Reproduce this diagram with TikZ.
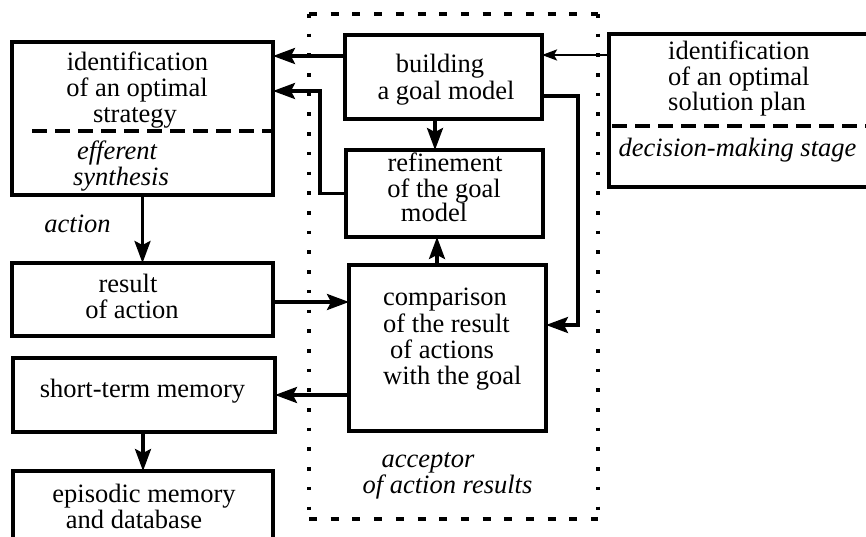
\documentclass[tikz,border=0pt]{standalone}
\usepackage{fontspec}
\setmainfont{Liberation Serif}
\newfontfamily\tmsfont{Liberation Serif}
\usetikzlibrary{arrows.meta,calc}
\begin{document}
\begin{tikzpicture}[x=1pt,y=-1pt,
  box/.style={draw=black, line width=3.2pt, inner sep=0pt, outer sep=0pt, rectangle},
  arr/.style={draw=black, line width=3.2pt, -{Stealth[length=22pt,width=16pt,inset=4pt]}},
  arrthin/.style={draw=black, line width=2.2pt, -{Stealth[length=15pt,width=11pt,inset=3pt]}},
  txt/.style={inner sep=0pt, anchor=base, text=black, font=\tmsfont\fontsize{26.5}{27}\selectfont},
  ltxt/.style={txt, anchor=base west},
  itxt/.style={txt, font=\tmsfont\fontsize{26.5}{27}\selectfont\itshape},
  sepline/.style={draw=black, line width=3.2pt, dash pattern=on 15pt off 8pt},
  dotv/.style={draw=black, line width=3.6pt, dash pattern=on 3.6pt off 16.1pt},
  dashh/.style={draw=black, line width=3.4pt, dash pattern=on 8pt off 13.7pt}]
\useasboundingbox (0,0) rectangle (866,537);
\clip (0,0) rectangle (866,537);

% acceptor frame
\draw[dotv] (309,14) -- (309,519);
\draw[dotv] (598,14) -- (598,519);
\draw[dashh] (309,14) -- (598,14);
\draw[dashh] (309,519) -- (598,519);

% boxes
\node[box, minimum width=261pt, minimum height=153pt] (b1) at (142.5,118.5) {};
\node[box, minimum width=261pt, minimum height=73pt] (res) at (142.5,299.5) {};
\node[box, minimum width=262pt, minimum height=74pt] (stm) at (144,395) {};
\node[box, minimum width=260pt, minimum height=129pt] (epi) at (143,535.5) {};
\node[box, minimum width=197pt, minimum height=84pt] (bld) at (443.5,77) {};
\node[box, minimum width=197pt, minimum height=87pt] (ref) at (444.5,193.5) {};
\node[box, minimum width=197pt, minimum height=166pt] (cmp) at (447.5,348) {};
\node[box, minimum width=291pt, minimum height=153pt] (plan) at (754.5,110.5) {};

% dashed separators
\draw[sepline] (32,131) -- (275,131);
\draw[sepline] (612,126) -- (866,126);

% texts
\node[txt] (t1) at (137.5,70.5) {identification};
\node[txt] (t2) at (137,96.5) {of an optimal};
\node[txt] (t3) at (135,122.5) {strategy};
\node[itxt] (t4) at (117,160) {efferent};
\node[itxt] (t5) at (121,186) {synthesis};
\node[itxt] (t6) at (77.5,233) {action};
\node[txt] (t7) at (128,292) {result};
\node[txt] (t8) at (132,318) {of action};
\node[txt] (t9) at (142.5,397) {short-term memory};
\node[txt] (t10) at (144,502) {episodic memory};
\node[txt] (t11) at (134,528) {and database};
\node[txt] (t12) at (440,73) {building};
\node[txt] (t13) at (446,100) {a goal model};
\node[txt] (t14) at (445,172) {refinement};
\node[txt] (t15) at (444,197) {of the goal};
\node[txt] (t16) at (434,222) {model};
\node[ltxt] (t17) at (383,305) {comparison};
\node[ltxt] (t18) at (383,332) {of the result};
\node[ltxt] (t19) at (390,358) {of actions};
\node[ltxt] (t20) at (383,384) {with the goal};
\node[itxt] (t21) at (428,467) {acceptor};
\node[itxt] (t22) at (447.5,493) {of action results};
\node[ltxt] (t23) at (668,60) {identification};
\node[ltxt] (t24) at (668,86) {of an optimal};
\node[ltxt] (t25) at (668,111) {solution plan};
\node[itxt] (t26) at (737.5,157) {decision-making stage};

% connectors
\coordinate (a1) at ([yshift=21pt]bld.west);
\draw[arr] (a1) -- (a1 -| b1.east);
\coordinate (a2) at ([yshift=55.5pt]plan.west);
\draw[arrthin] (a2) -- (a2 -| bld.east);
\coordinate (a3) at ([xshift=-8.5pt]bld.south);
\draw[arr] (a3) -- (a3 |- ref.north);
\coordinate (a4) at ([yshift=27.5pt]b1.east);
\draw[arr] (ref.west) -- ++(-26,0) |- (a4);
\coordinate (a5) at ([xshift=-10.5pt]cmp.north);
\draw[arr] (a5) -- (a5 |- ref.south);
\coordinate (a6) at ([yshift=-19pt]bld.east);
\coordinate (a6e) at ([yshift=23pt]cmp.east);
\draw[arr] (a6) -- ++(36,0) |- (a6e);
\coordinate (a7) at ([yshift=-2.5pt]res.east);
\draw[arr] (a7) -- (a7 -| cmp.west);
\draw[arr] (stm.east -| cmp.west) -- (stm.east);
\draw[arr] (b1.south) -- (b1.south |- res.north);
\coordinate (a10) at ([xshift=-1pt]stm.south);
\draw[arr] (a10) -- (a10 |- epi.north);
\end{tikzpicture}
\end{document}
